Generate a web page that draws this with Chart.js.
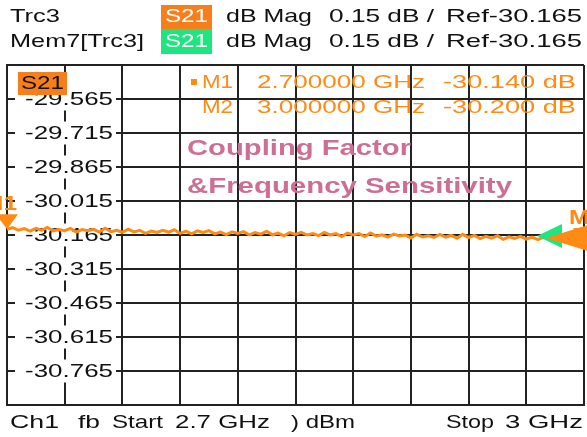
<!DOCTYPE html>
<html>
<head>
<meta charset="utf-8">
<script src="https://cdn.jsdelivr.net/npm/chart.js@4/dist/chart.umd.min.js"></script>
<style>
  html, body { margin: 0; padding: 0; background: #fff; }
  #wrap { width: 587px; height: 437px; }
</style>
</head>
<body>
<div id="wrap"><canvas id="vna"></canvas></div>
<script>
// sweep settings (from the footer)
var freqStart = 2.7;
var freqStop = 3.0;

// grid: 10 divisions each way, 0.15 dB / div, ref -30.165
var xTicks = [2.7, 2.73, 2.76, 2.79, 2.82, 2.85, 2.88, 2.91, 2.94, 2.97, 3.0];
var yTicks = [-30.915, -30.765, -30.615, -30.465, -30.315, -30.165, -30.015, -29.865, -29.715, -29.565, -29.415];
var yTickLabels = ['', '-30.765', '-30.615', '-30.465', '-30.315', '-30.165', '-30.015', '-29.865', '-29.715', '-29.565', ''];
var refLevel = -30.165;

var trc3 = [
    -30.140, -30.132, -30.144, -30.137, -30.148, -30.136, -30.144, -30.132, -30.147, -30.141,
    -30.146, -30.136, -30.152, -30.141, -30.146, -30.140, -30.152, -30.135, -30.150, -30.144,
    -30.153, -30.139, -30.151, -30.144, -30.158, -30.148, -30.154, -30.144, -30.152, -30.142,
    -30.158, -30.148, -30.160, -30.147, -30.154, -30.146, -30.160, -30.152, -30.163, -30.151,
    -30.158, -30.150, -30.164, -30.154, -30.161, -30.148, -30.164, -30.157, -30.169, -30.154,
    -30.162, -30.153, -30.165, -30.159, -30.168, -30.154, -30.165, -30.159, -30.172, -30.157,
    -30.165, -30.159, -30.172, -30.156, -30.170, -30.164, -30.174, -30.161, -30.169, -30.165,
    -30.178, -30.162, -30.174, -30.168, -30.176, -30.162, -30.174, -30.167, -30.179, -30.162,
    -30.176, -30.167, -30.181, -30.171, -30.179, -30.168, -30.184, -30.173, -30.180, -30.171,
    -30.183, -30.174, -30.185, -30.174, -30.183, -30.180, -30.186, -30.184, -30.191, -30.193,
    -30.200
];

// markers
var markerNames = ['M1', 'M2'];
var markerFreqs = [2.7, 3.0];
var markerValues = [-30.140, -30.200];
var markerFreqText = ['2.700000 GHz', '3.000000 GHz'];
var markerValueText = ['-30.140 dB', '-30.200 dB'];

var ORANGE = '#ff8a14';
var BOX_ORANGE = '#f67f1c';
var GREEN = '#1ee57f';
var PINK = '#cd6f94';
var GRID = '#222222';
var FONT = 'Liberation Sans, Arial, sans-serif';

// draw text squeezed/stretched to a given width (screen shots are stretched)
function fitText(ctx, str, left, midY, width, font, color) {
    ctx.save();
    ctx.font = font;
    ctx.fillStyle = color;
    ctx.textBaseline = 'middle';
    ctx.textAlign = 'left';
    var w = ctx.measureText(str).width;
    ctx.translate(left, midY);
    ctx.scale(width / w, 1);
    ctx.fillText(str, 0, 0);
    ctx.restore();
}

function triangle(ctx, pts, color) {
    ctx.beginPath();
    ctx.moveTo(pts[0], pts[1]);
    ctx.lineTo(pts[2], pts[3]);
    ctx.lineTo(pts[4], pts[5]);
    ctx.closePath();
    ctx.fillStyle = color;
    ctx.fill();
}

var points = trc3.map(function (v, i) {
    return { x: freqStart + i * (freqStop - freqStart) / (trc3.length - 1), y: v };
});

// y labels sit inside the first column on white boxes, under the trace
var labelPlugin = {
    id: 'vnaLabels',
    beforeDatasetsDraw: function (chart) {
        var ctx = chart.ctx;
        var area = chart.chartArea;
        var y = chart.scales.y;
        yTicks.forEach(function (v, i) {
            var py = y.getPixelForValue(v);
            if (!yTickLabels[i]) return;
            ctx.fillStyle = '#fff';
            ctx.fillRect(area.left + 8, py - 11.5, 101, 23);
            fitText(ctx, yTickLabels[i], area.left + 18, py + 1, 88, '19px ' + FONT, '#111');
        });
        // trace label box
        ctx.fillStyle = BOX_ORANGE;
        ctx.fillRect(area.left + 11, area.top + 7, 49, 23);
        fitText(ctx, 'S21', area.left + 14, area.top + 19, 43, '19px ' + FONT, '#111');
    },
    afterDatasetsDraw: function (chart) {
        var ctx = chart.ctx;
        var area = chart.chartArea;
        var x = chart.scales.x;
        var y = chart.scales.y;
        var refY = y.getPixelForValue(refLevel);

        // reference arrows at the right edge (memory green, trace orange)
        triangle(ctx, [area.right - 47, refY + 1, area.right - 22, refY - 11, area.right - 22, refY + 13], GREEN);
        triangle(ctx, [area.right - 38, refY + 3, area.right + 4, refY - 10, area.right + 4, refY + 16], ORANGE);

        // marker triangles and names
        markerFreqs.forEach(function (f, i) {
            var px = x.getPixelForValue(f);
            var py = y.getPixelForValue(markerValues[i]);
            triangle(ctx, [px - 11, py - 15, px + 11, py - 15, px, py], ORANGE);
            fitText(ctx, markerNames[i], px - (i === 0 ? 24 : 15), py - 25, 34, 'bold 21px ' + FONT, ORANGE);
        });

        // marker readout
        ctx.fillStyle = ORANGE;
        ctx.fillRect(191, 79, 6, 6);
        markerNames.forEach(function (name, i) {
            var my = 83 + i * 25;
            fitText(ctx, name, 202, my, 31, '18px ' + FONT, ORANGE);
            fitText(ctx, markerFreqText[i], 257, my, 168, '18px ' + FONT, ORANGE);
            fitText(ctx, markerValueText[i], 443, my, 133, '18px ' + FONT, ORANGE);
        });

        fitText(ctx, 'Coupling Factor', 187, 149, 224, 'bold 22px ' + FONT, PINK);
        fitText(ctx, '&Frequency Sensitivity', 187, 187, 325, 'bold 22px ' + FONT, PINK);
    },
    afterDraw: function (chart) {
        var ctx = chart.ctx;
        var f = '19px ' + FONT;
        // header
        fitText(ctx, 'Trc3', 10, 17, 50, f, '#111');
        fitText(ctx, 'Mem7[Trc3]', 10, 42, 134, f, '#111');
        ctx.fillStyle = BOX_ORANGE;
        ctx.fillRect(161, 5, 51, 24);
        ctx.fillStyle = GREEN;
        ctx.fillRect(161, 29, 51, 25);
        fitText(ctx, 'S21', 165, 17, 43, f, '#fff');
        fitText(ctx, 'S21', 165, 42, 43, f, '#fff');
        [17, 42].forEach(function (ly) {
            fitText(ctx, 'dB Mag', 226, ly, 86, f, '#111');
            fitText(ctx, '0.15 dB /', 329, ly, 105, f, '#111');
            fitText(ctx, 'Ref-30.165', 446, ly, 136, f, '#111');
        });
        // footer
        var fy = 423;
        fitText(ctx, 'Ch1', 10, fy, 49, f, '#111');
        fitText(ctx, 'fb', 78, fy, 22, f, '#111');
        fitText(ctx, 'Start', 112, fy, 51, f, '#111');
        fitText(ctx, '2.7 GHz', 175, fy, 95, f, '#111');
        fitText(ctx, ') dBm', 291, fy, 64, f, '#111');
        fitText(ctx, 'Stop', 446, fy, 48, f, '#111');
        fitText(ctx, '3 GHz', 505, fy, 78, f, '#111');
    }
};

var gridOpts = { color: GRID, lineWidth: 2, drawTicks: false, tickLength: 0 };
var borderOpts = { color: GRID, width: 2 };

new Chart(document.getElementById('vna').getContext('2d'), {
    type: 'line',
    data: {
        datasets: [
            {
                label: 'Trc3 S21',
                data: points,
                borderColor: ORANGE,
                borderWidth: 3,
                pointRadius: 0,
                tension: 0
            }
        ]
    },
    options: {
        responsive: true,
        maintainAspectRatio: false,
        animation: false,
        layout: { padding: { left: 7, right: 3, top: 65, bottom: 32 } },
        plugins: { legend: { display: false }, tooltip: { enabled: false } },
        scales: {
            x: {
                type: 'linear',
                min: freqStart,
                max: freqStop,
                afterBuildTicks: function (scale) {
                    scale.ticks = xTicks.map(function (v) { return { value: v }; });
                },
                ticks: { display: false },
                grid: gridOpts,
                border: borderOpts
            },
            y: {
                type: 'linear',
                min: yTicks[0],
                max: yTicks[yTicks.length - 1],
                afterBuildTicks: function (scale) {
                    scale.ticks = yTicks.map(function (v) { return { value: v }; });
                },
                ticks: { display: false },
                grid: gridOpts,
                border: borderOpts
            }
        }
    },
    plugins: [labelPlugin]
});
</script>
</body>
</html>
